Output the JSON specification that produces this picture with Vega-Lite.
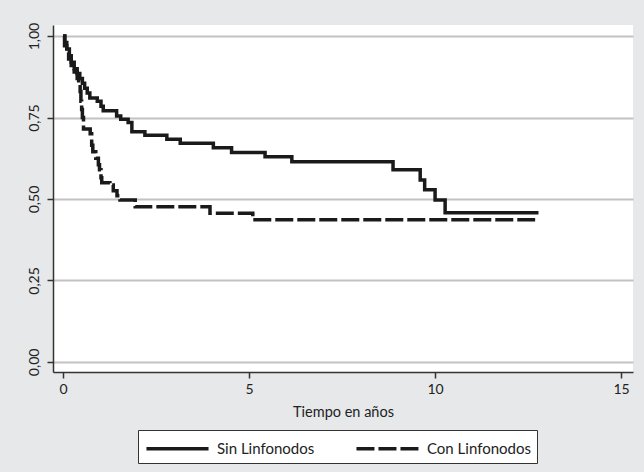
{
  "$schema": "https://vega.github.io/schema/vega-lite/v6.json",
  "width": 580,
  "height": 347,
  "autosize": {"type": "none"},
  "padding": {"left": 53, "top": 25, "right": 11, "bottom": 100},
  "background": "#e7e8ea",
  "config": {
    "view": {"fill": "white", "stroke": null},
    "font": "Lato",
    "axis": {"labelFont": "Lato", "titleFont": "Lato", "labelFontSize": 14, "titleFontSize": 14.5, "titleFontWeight": "normal", "labelColor": "#222", "titleColor": "#222", "domainColor": "#333", "domainWidth": 1.5, "tickColor": "#333", "tickWidth": 1.5, "tickSize": 6},
    "legend": {"labelFont": "Lato", "labelFontSize": 15, "labelColor": "#222"}
  },
  "data": {"values": [
    {"t": 0, "s": 1.0, "g": "Sin Linfonodos"},
    {"t": 0.05, "s": 0.98, "g": "Sin Linfonodos"},
    {"t": 0.10, "s": 0.96, "g": "Sin Linfonodos"},
    {"t": 0.17, "s": 0.94, "g": "Sin Linfonodos"},
    {"t": 0.22, "s": 0.92, "g": "Sin Linfonodos"},
    {"t": 0.30, "s": 0.90, "g": "Sin Linfonodos"},
    {"t": 0.38, "s": 0.885, "g": "Sin Linfonodos"},
    {"t": 0.45, "s": 0.87, "g": "Sin Linfonodos"},
    {"t": 0.52, "s": 0.855, "g": "Sin Linfonodos"},
    {"t": 0.58, "s": 0.84, "g": "Sin Linfonodos"},
    {"t": 0.65, "s": 0.825, "g": "Sin Linfonodos"},
    {"t": 0.72, "s": 0.81, "g": "Sin Linfonodos"},
    {"t": 0.92, "s": 0.80, "g": "Sin Linfonodos"},
    {"t": 1.02, "s": 0.785, "g": "Sin Linfonodos"},
    {"t": 1.08, "s": 0.771, "g": "Sin Linfonodos"},
    {"t": 1.44, "s": 0.755, "g": "Sin Linfonodos"},
    {"t": 1.55, "s": 0.745, "g": "Sin Linfonodos"},
    {"t": 1.75, "s": 0.735, "g": "Sin Linfonodos"},
    {"t": 1.85, "s": 0.706, "g": "Sin Linfonodos"},
    {"t": 2.2, "s": 0.696, "g": "Sin Linfonodos"},
    {"t": 2.79, "s": 0.683, "g": "Sin Linfonodos"},
    {"t": 3.15, "s": 0.671, "g": "Sin Linfonodos"},
    {"t": 4.04, "s": 0.657, "g": "Sin Linfonodos"},
    {"t": 4.53, "s": 0.643, "g": "Sin Linfonodos"},
    {"t": 5.43, "s": 0.63, "g": "Sin Linfonodos"},
    {"t": 6.15, "s": 0.614, "g": "Sin Linfonodos"},
    {"t": 8.87, "s": 0.59, "g": "Sin Linfonodos"},
    {"t": 9.6, "s": 0.558, "g": "Sin Linfonodos"},
    {"t": 9.72, "s": 0.528, "g": "Sin Linfonodos"},
    {"t": 10.0, "s": 0.497, "g": "Sin Linfonodos"},
    {"t": 10.27, "s": 0.458, "g": "Sin Linfonodos"},
    {"t": 12.78, "s": 0.458, "g": "Sin Linfonodos"},
    {"t": 0, "s": 1.0, "g": "Con Linfonodos"},
    {"t": 0.04, "s": 0.97, "g": "Con Linfonodos"},
    {"t": 0.10, "s": 0.95, "g": "Con Linfonodos"},
    {"t": 0.15, "s": 0.93, "g": "Con Linfonodos"},
    {"t": 0.22, "s": 0.91, "g": "Con Linfonodos"},
    {"t": 0.30, "s": 0.89, "g": "Con Linfonodos"},
    {"t": 0.38, "s": 0.87, "g": "Con Linfonodos"},
    {"t": 0.42, "s": 0.85, "g": "Con Linfonodos"},
    {"t": 0.46, "s": 0.83, "g": "Con Linfonodos"},
    {"t": 0.48, "s": 0.80, "g": "Con Linfonodos"},
    {"t": 0.50, "s": 0.775, "g": "Con Linfonodos"},
    {"t": 0.52, "s": 0.75, "g": "Con Linfonodos"},
    {"t": 0.55, "s": 0.715, "g": "Con Linfonodos"},
    {"t": 0.73, "s": 0.70, "g": "Con Linfonodos"},
    {"t": 0.77, "s": 0.665, "g": "Con Linfonodos"},
    {"t": 0.80, "s": 0.645, "g": "Con Linfonodos"},
    {"t": 0.88, "s": 0.625, "g": "Con Linfonodos"},
    {"t": 0.95, "s": 0.605, "g": "Con Linfonodos"},
    {"t": 0.98, "s": 0.59, "g": "Con Linfonodos"},
    {"t": 1.02, "s": 0.565, "g": "Con Linfonodos"},
    {"t": 1.04, "s": 0.55, "g": "Con Linfonodos"},
    {"t": 1.26, "s": 0.543, "g": "Con Linfonodos"},
    {"t": 1.35, "s": 0.525, "g": "Con Linfonodos"},
    {"t": 1.45, "s": 0.51, "g": "Con Linfonodos"},
    {"t": 1.53, "s": 0.497, "g": "Con Linfonodos"},
    {"t": 1.94, "s": 0.476, "g": "Con Linfonodos"},
    {"t": 3.95, "s": 0.456, "g": "Con Linfonodos"},
    {"t": 5.1, "s": 0.436, "g": "Con Linfonodos"},
    {"t": 12.69, "s": 0.436, "g": "Con Linfonodos"}
  ]},
  "mark": {"type": "line", "interpolate": "step-after", "color": "#1a1a1a", "strokeWidth": 3.5, "strokeCap": "butt"},
  "encoding": {
    "x": {"field": "t", "type": "quantitative",
      "scale": {"domain": [-0.27, 15.32], "nice": false, "zero": false},
      "axis": {"values": [0, 5, 10, 15], "grid": false, "title": "Tiempo en años", "titlePadding": 9, "labelPadding": 4}},
    "y": {"field": "s", "type": "quantitative",
      "scale": {"domain": [-0.031, 1.034], "nice": false, "zero": false},
      "axis": {"values": [0, 0.25, 0.5, 0.75, 1], "grid": true, "gridColor": "#c2c2c4", "gridWidth": 2, "title": null, "labelAngle": -90, "labelAlign": "center", "labelBaseline": "bottom", "labelPadding": 6,
        "labelExpr": "replace(format(datum.value, '.2f'), '.', ',')"}},
    "strokeDash": {"field": "g", "type": "nominal",
      "scale": {"domain": ["Sin Linfonodos", "Con Linfonodos"], "range": [[1, 0], [18, 4]]},
      "legend": {"title": null, "orient": "none", "legendX": 85, "legendY": 405, "direction": "horizontal",
        "symbolType": "M-3,0H3", "symbolSize": 428, "symbolStrokeWidth": 3.5, "symbolStrokeColor": "#1a1a1a", "symbolOffset": 21, "labelOffset": 27,
        "strokeColor": "#333", "fillColor": "white", "padding": 6, "columnPadding": 34}}
  }
}
